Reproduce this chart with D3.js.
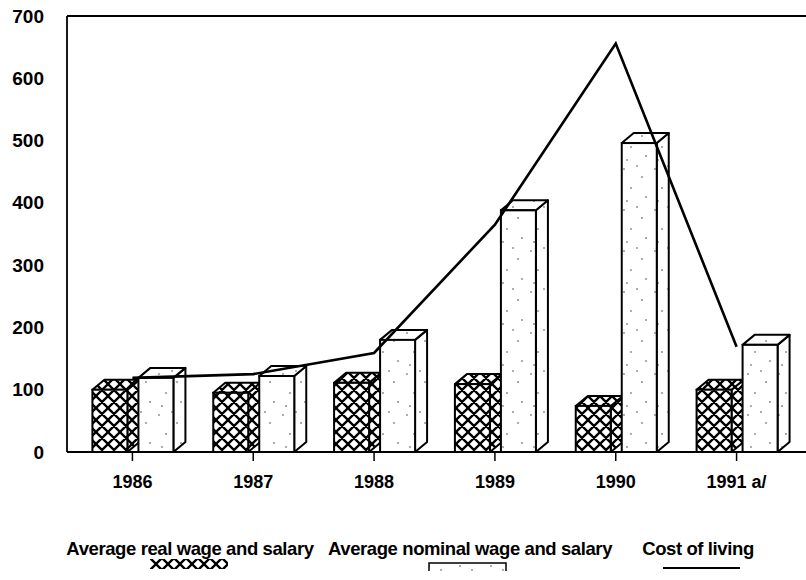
<!DOCTYPE html>
<html>
<head>
<meta charset="utf-8">
<script src="https://cdn.jsdelivr.net/npm/d3@7"></script>
<style>
  body { margin: 0; background: #fff; }
  text { font-family: "Liberation Sans", Arial, sans-serif; font-weight: bold; }
</style>
</head>
<body>
<svg id="chart" width="806" height="580"></svg>
<script>
// values (index numbers)
const years = ["1986", "1987", "1988", "1989", "1990", "1991 a/"];
const realWage = [100, 95, 111, 109, 74, 100];
const nominalWage = [119, 122, 180, 388, 496, 172];
const costOfLiving = [119, 125, 159, 365, 656, 169];
const yTicks = [0, 100, 200, 300, 400, 500, 600, 700];

const svg = d3.select("#chart");

const x = d3.scaleBand().domain(years).range([72, 797]);
const y = d3.scaleLinear().domain([0, 700]).range([452, 16]);

const dx = 12, dy = 10;   // fake 3d depth

// patterns
const defs = svg.append("defs");
const hatch = defs.append("pattern")
  .attr("id", "hatch")
  .attr("patternUnits", "userSpaceOnUse")
  .attr("width", 12).attr("height", 12);
hatch.append("rect").attr("width", 12).attr("height", 12).attr("fill", "#fff");
hatch.append("path")
  .attr("d", "M-3,3 L3,-3 M0,12 L12,0 M9,15 L15,9 M-3,9 L3,15 M0,0 L12,12 M9,-3 L15,3")
  .attr("stroke", "#000").attr("stroke-width", 2.3);

const dots = defs.append("pattern")
  .attr("id", "dots")
  .attr("patternUnits", "userSpaceOnUse")
  .attr("width", 31).attr("height", 41);
dots.append("rect").attr("width", 31).attr("height", 41).attr("fill", "#fff");
[[4, 5], [22, 13], [11, 24], [26, 33], [7, 37], [17, 2]].forEach(p => {
  dots.append("circle").attr("cx", p[0]).attr("cy", p[1]).attr("r", 0.8).attr("fill", "#444");
});

// frame lines
svg.append("line").attr("x1", 67).attr("x2", 806).attr("y1", y(700)).attr("y2", y(700))
  .attr("stroke", "#000").attr("stroke-width", 1.8);
svg.append("line").attr("x1", 67).attr("x2", 67).attr("y1", y(700)).attr("y2", y(0))
  .attr("stroke", "#000").attr("stroke-width", 1.8);

// y axis labels
const yAxis = svg.append("g")
  .attr("transform", "translate(67,0)")
  .call(d3.axisLeft(y).tickValues(yTicks).tickSize(0).tickPadding(23));
yAxis.select(".domain").remove();
yAxis.selectAll("text").attr("font-size", 19).attr("fill", "#000")
  .attr("font-family", "Liberation Sans, Arial, sans-serif").attr("font-weight", "bold");

// bars
function box(g, x0, w, v, fill) {
  const top = y(v), base = y(0), x1 = x0 + w;
  g.append("path")
    .attr("d", `M${x1},${top} L${x1 + dx},${top - dy} L${x1 + dx},${base - dy} L${x1},${base} Z`)
    .attr("fill", fill).attr("stroke", "#000").attr("stroke-width", 2).attr("stroke-linejoin", "round");
  g.append("path")
    .attr("d", `M${x0},${top} L${x0 + dx},${top - dy} L${x1 + dx},${top - dy} L${x1},${top} Z`)
    .attr("fill", fill).attr("stroke", "#000").attr("stroke-width", 2).attr("stroke-linejoin", "round");
  g.append("rect")
    .attr("x", x0).attr("y", top).attr("width", w).attr("height", base - top)
    .attr("fill", fill).attr("stroke", "#000").attr("stroke-width", 2);
}

const barW = 35;
const bars = svg.append("g");
years.forEach((yr, i) => {
  const c = x(yr) + x.bandwidth() / 2;
  const g = bars.append("g");
  box(g, c - 40, barW, realWage[i], "url(#hatch)");
  box(g, c + 6, barW, nominalWage[i], "url(#dots)");
});

// x axis
const xAxis = svg.append("g")
  .attr("transform", `translate(0,${y(0)})`)
  .call(d3.axisBottom(x).tickSize(9).tickPadding(14).tickSizeOuter(0));
xAxis.select(".domain").attr("d", "M67,0 H806").attr("stroke-width", 1.8);
xAxis.selectAll(".tick line").attr("stroke-width", 1.5);
xAxis.selectAll("text").attr("font-size", 18).attr("fill", "#000")
  .attr("font-family", "Liberation Sans, Arial, sans-serif").attr("font-weight", "bold");

// cost of living line
const line = d3.line()
  .x((d, i) => x(years[i]) + x.bandwidth() / 2)
  .y(d => y(d));
svg.append("path")
  .datum(costOfLiving)
  .attr("fill", "none")
  .attr("stroke", "#000")
  .attr("stroke-width", 2.6)
  .attr("stroke-linejoin", "miter")
  .attr("d", line);

// legend
const legend = svg.append("g").attr("font-size", 18.5).attr("letter-spacing", -0.4);
legend.append("text").attr("x", 190).attr("y", 555).attr("text-anchor", "middle")
  .text("Average real wage and salary");
legend.append("text").attr("x", 470).attr("y", 555).attr("text-anchor", "middle")
  .text("Average nominal wage and salary");
legend.append("text").attr("x", 698).attr("y", 555).attr("text-anchor", "middle")
  .text("Cost of living");

legend.append("rect").attr("x", 150).attr("y", 559).attr("width", 78).attr("height", 10)
  .attr("fill", "url(#hatch)");
legend.append("path").attr("d", "M429,571 V563 H506 V571")
  .attr("fill", "url(#dots)").attr("stroke", "#000").attr("stroke-width", 1.5);
legend.append("line").attr("x1", 663).attr("x2", 740).attr("y1", 568).attr("y2", 568)
  .attr("stroke", "#000").attr("stroke-width", 2.2);
</script>
</body>
</html>
